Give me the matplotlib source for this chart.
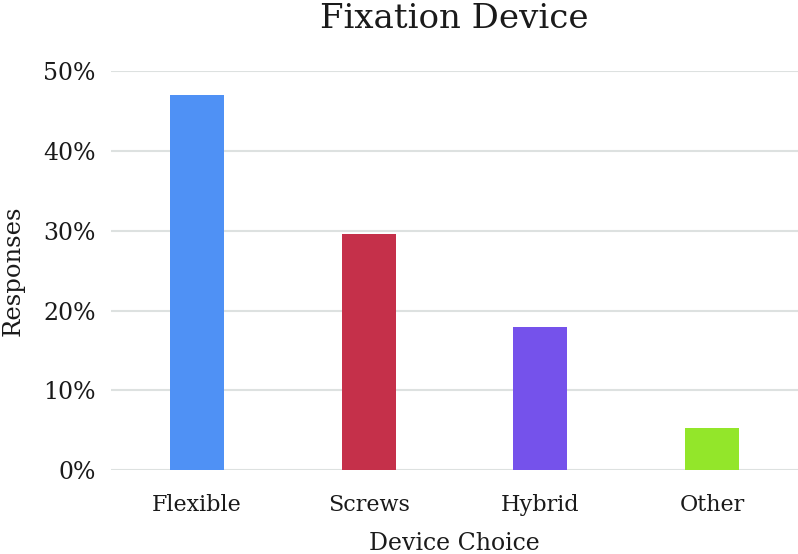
import matplotlib
matplotlib.use("Agg")
import matplotlib.pyplot as plt
from matplotlib.ticker import FuncFormatter

categories = ["Flexible", "Screws", "Hybrid", "Other"]
responses = [47.0, 29.6, 18.0, 5.3]
colors = ["#4f91f5", "#c5304a", "#7552eb", "#93e62a"]
yticks = [0, 10, 20, 30, 40, 50]

plt.rcParams["font.family"] = ["DejaVu Serif"]

fig = plt.figure(figsize=(7.98, 5.54), dpi=100)
ax = fig.add_axes([0.139, 0.1516, 0.861, 0.7194])

x = range(len(categories))
ax.bar(x, responses, width=0.315, color=colors, zorder=3)

ax.set_xlim(-0.5, len(categories) - 0.5)
ax.set_ylim(0, 50)
ax.set_yticks(yticks)
ax.yaxis.set_major_formatter(FuncFormatter(lambda v, p: f"{v:.0f}%"))
ax.set_xticks(list(x))
ax.set_xticklabels(categories)

ax.yaxis.grid(True, color="#dde1e0", linewidth=1.5, zorder=0)
ax.set_axisbelow(True)
for s in ax.spines.values():
    s.set_visible(False)
ax.tick_params(axis="y", length=0, labelsize=17, colors="#1a1a1a", pad=11)
ax.tick_params(axis="x", length=0, labelsize=16, colors="#1a1a1a", pad=17)

ax.set_xlabel("Device Choice", fontsize=17, labelpad=12, color="#1a1a1a")
ax.set_ylabel("Responses", fontsize=17.5, labelpad=13, color="#1a1a1a")
ax.set_title("Fixation Device", fontsize=24.5, pad=31, color="#1a1a1a")

fig.savefig("out.png", dpi=100)
